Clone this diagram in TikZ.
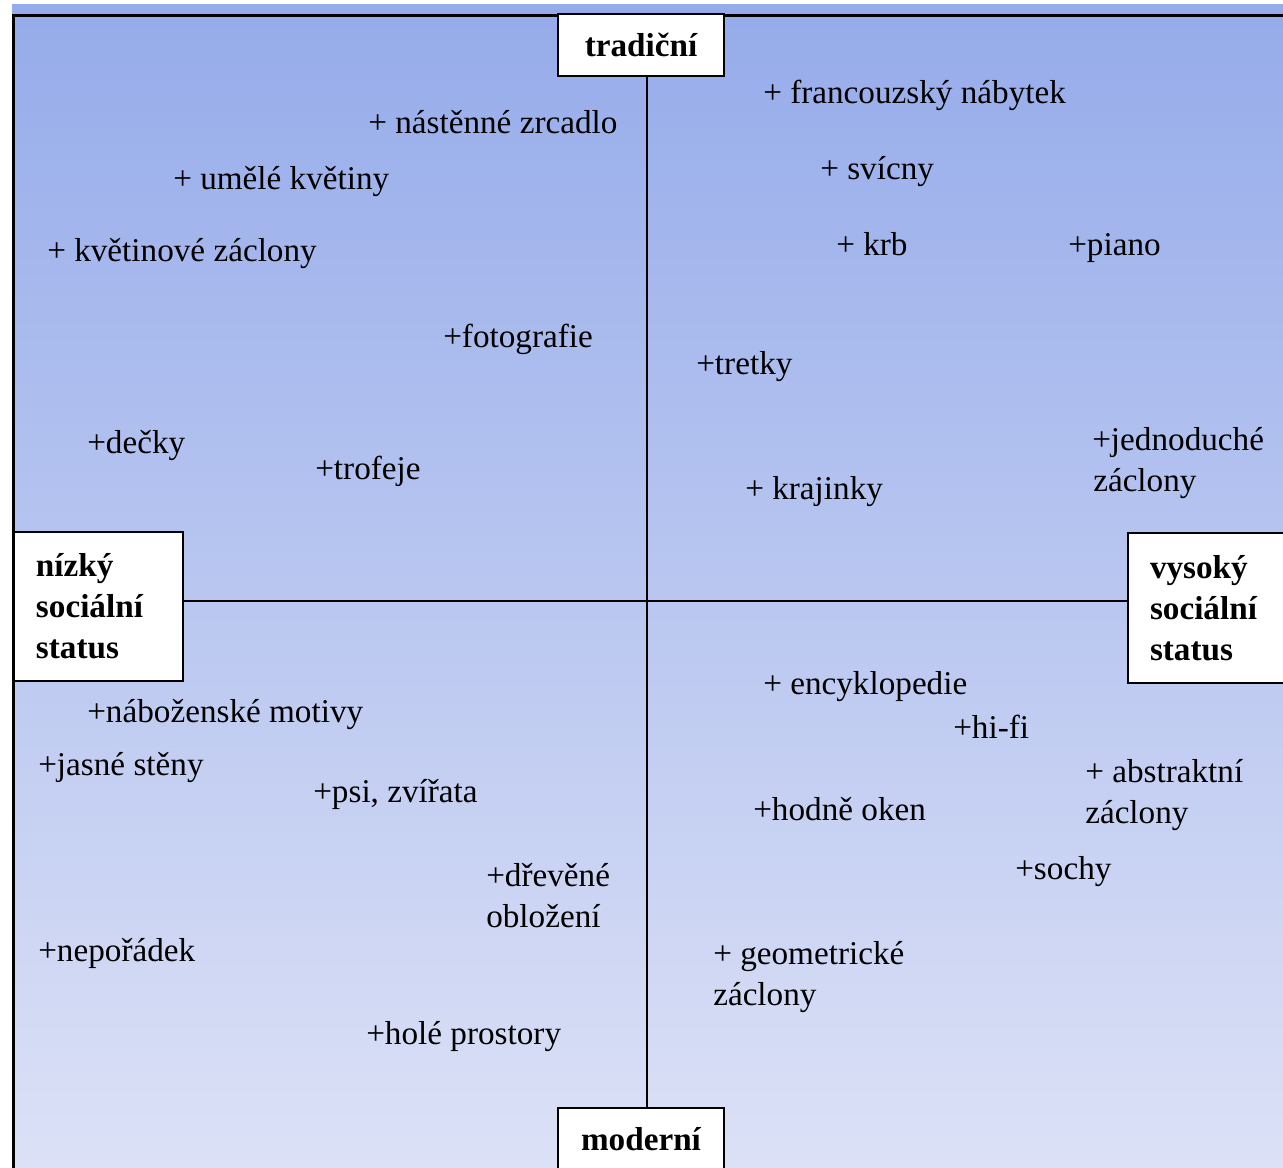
\documentclass[tikz,border=0pt]{standalone}
\usepackage{fontspec}
\setmainfont{Liberation Serif}
\definecolor{bgtop}{RGB}{149,171,234}
\definecolor{bgbot}{RGB}{220,225,246}
\begin{document}
\begin{tikzpicture}[x=0.75pt,y=-0.75pt,
  lbl/.style={anchor=base west, inner sep=0pt, yshift=-1.5pt, font=\fontsize{24.9}{30.75}\selectfont},
  axisbox/.style={draw=black, line width=1.5pt, fill=white, inner sep=0pt,
    font=\fontsize{24.9}{30.75}\selectfont\bfseries},
  axisline/.style={draw=black, line width=1.1pt}]
\useasboundingbox (0,0) rectangle (1283,1168);
\clip (0,0) rectangle (1283,1168);
% background
\shade[top color=bgtop, bottom color=bgbot] (12,4) rectangle (1290,1168);
\draw[line width=2.25pt] (1290,15) -- (13,15) -- (13,1175);
% axis boxes
\node[axisbox, anchor=north west, minimum width=166*0.75pt, minimum height=62*0.75pt] (trad) at (557,13) {tradiční};
\node[axisbox, anchor=north west, minimum width=166*0.75pt, minimum height=62*0.75pt] (mod) at (557,1107) {moderní};
\node[axisbox, anchor=north west, minimum width=169*0.75pt, minimum height=149*0.75pt,
  text width=125*0.75pt, align=left] (low) at (13,531) {nízký\\sociální\\status};
\node[axisbox, anchor=north west, minimum width=169*0.75pt, minimum height=150*0.75pt,
  text width=125*0.75pt, align=left] (high) at (1127,532) {vysoký\\sociální\\status};
% axes
\coordinate (hy) at (0,601);
\coordinate (vx) at (647,0);
\draw[axisline] (trad.south -| vx) -- (mod.north -| vx);
\draw[axisline] (low.east |- hy) -- (high.west |- hy);
% upper left
\node[lbl] (t1) at (368,131) {+ nástěnné zrcadlo};
\node[lbl] (t2) at (173,187) {+ umělé květiny};
\node[lbl] (t3) at (47,259) {+ květinové záclony};
\node[lbl] (t4) at (443,345) {+fotografie};
\node[lbl] (t5) at (87,451) {+dečky};
\node[lbl] (t6) at (315,477) {+trofeje};
% upper right
\node[lbl] (u1) at (763,101) {+ francouzský nábytek};
\node[lbl] (u2) at (820,177) {+ svícny};
\node[lbl] (u3) at (836,253) {+ krb};
\node[lbl] (u4) at (1068,253) {+piano};
\node[lbl] (u5) at (696,372) {+tretky};
\node[lbl] (u6) at (1092,448) {+jednoduché};
\node[lbl] (u6b) at (1093,489) {záclony};
\node[lbl] (u7) at (745,497) {+ krajinky};
% lower left
\node[lbl] (l1) at (87,720) {+náboženské motivy};
\node[lbl] (l2) at (38,773) {+jasné stěny};
\node[lbl] (l3) at (313,800) {+psi, zvířata};
\node[lbl] (l4) at (486,884) {+dřevěné};
\node[lbl] (l4b) at (486,925) {obložení};
\node[lbl] (l5) at (38,959) {+nepořádek};
\node[lbl] (l6) at (366,1042) {+holé prostory};
% lower right
\node[lbl] (r1) at (763,692) {+ encyklopedie};
\node[lbl] (r2) at (953,736) {+hi-fi};
\node[lbl] (r3) at (1085,780) {+ abstraktní};
\node[lbl] (r3b) at (1085,821) {záclony};
\node[lbl] (r4) at (753,818) {+hodně oken};
\node[lbl] (r5) at (1015,877) {+sochy};
\node[lbl] (r6) at (713,962) {+ geometrické};
\node[lbl] (r6b) at (713,1003) {záclony};
\end{tikzpicture}
\end{document}
